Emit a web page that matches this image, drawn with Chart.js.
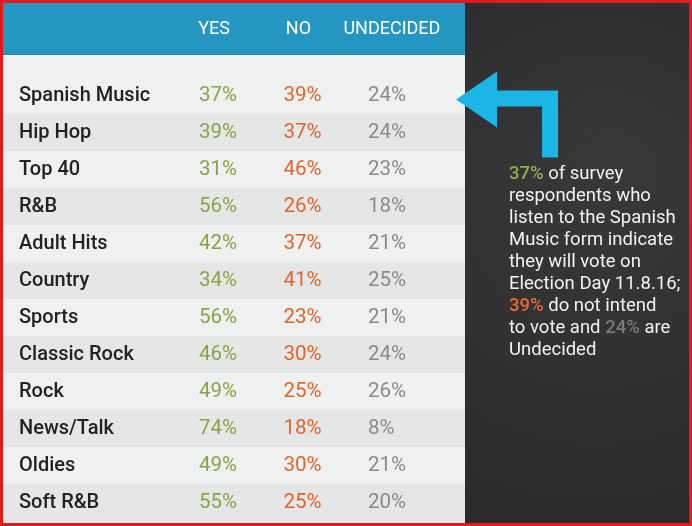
<!DOCTYPE html>
<html>
<head>
<meta charset="utf-8">
<script src="https://cdn.jsdelivr.net/npm/chart.js@4.4.0/dist/chart.umd.min.js"></script>
<style>
  html, body { margin: 0; padding: 0; background: #ffffff; }
  canvas { display: block; }
</style>
</head>
<body>
<canvas id="chart" width="692" height="526"></canvas>
<script>
const formats = ['Spanish Music', 'Hip Hop', 'Top 40', 'R&B', 'Adult Hits', 'Country',
    'Sports', 'Classic Rock', 'Rock', 'News/Talk', 'Oldies', 'Soft R&B'];
const headers = ['YES', 'NO', 'UNDECIDED'];
const yesValues = [37, 39, 31, 56, 42, 34, 56, 46, 49, 74, 49, 55];
const noValues = [39, 37, 46, 26, 37, 41, 23, 30, 25, 18, 30, 25];
const undecidedValues = [24, 24, 23, 18, 21, 25, 21, 24, 26, 8, 21, 20];

// callout text, highlighted numbers come from the first row
const noteLines = [
    [[yesValues[0] + '%', 'yes'], [' of survey', 'text']],
    [['respondents who', 'text']],
    [['listen to the Spanish', 'text']],
    [['Music form indicate', 'text']],
    [['they will vote on', 'text']],
    [['Election Day 11.8.16;', 'text']],
    [[noValues[0] + '%', 'no'], [' do not intend', 'text']],
    [['to vote and ', 'text'], [undecidedValues[0] + '%', 'undecided'], [' are', 'text']],
    [['Undecided', 'text']]
];

const colors = {
    yes: '#87a546',
    no: '#e4642c',
    undecided: '#8a8a8a',
    label: '#222222',
    header: '#2596c0',
    rowLight: '#eff0f0',
    rowDark: '#e5e7e7',
    border: '#e11b1b',
    arrow: '#1bb5e6'
};
const noteColors = { yes: '#8fb14c', no: '#e8692f', undecided: '#7a7a7a', text: '#f2f2f2' };

const FONT = 'Roboto, "Open Sans", sans-serif';

const series = [yesValues, noValues, undecidedValues];
const seriesKeys = ['yes', 'no', 'undecided'];

const tablePlugin = {
    id: 'tableBackdrop',
    beforeDraw: (chart) => {
        const ctx = chart.ctx;
        const y = chart.scales.y;
        const area = chart.chartArea;
        const rowH = y.getPixelForValue(1) - y.getPixelForValue(0);
        ctx.save();
        // red frame
        ctx.fillStyle = colors.border;
        ctx.fillRect(0, 0, chart.width, chart.height);
        // table body
        ctx.fillStyle = colors.rowLight;
        ctx.fillRect(3, 3, area.right - 3, chart.height - 6);
        formats.forEach((f, i) => {
            const cy = y.getPixelForValue(i);
            ctx.fillStyle = i % 2 ? colors.rowDark : colors.rowLight;
            const bottom = i === formats.length - 1 ? chart.height - 3 : cy + rowH / 2;
            ctx.fillRect(3, cy - rowH / 2, area.right - 3, bottom - (cy - rowH / 2));
        });
        // header bar
        ctx.fillStyle = colors.header;
        ctx.fillRect(3, 3, area.right - 3, 52);
        ctx.fillStyle = '#1f89b0';
        ctx.fillRect(3, 54, area.right - 3, 1);
        // dark side panel
        const g = ctx.createRadialGradient(610, 170, 10, 590, 230, 330);
        g.addColorStop(0, '#38383a');
        g.addColorStop(1, '#2a2a2c');
        ctx.fillStyle = g;
        ctx.fillRect(area.right, 3, chart.width - 3 - area.right, chart.height - 6);
        ctx.restore();
    },
    afterDatasetsDraw: (chart) => {
        const ctx = chart.ctx;
        const x = chart.scales.x;
        const y = chart.scales.y;
        ctx.save();

        // column headers
        const headerNudge = [15, 15, 24];
        ctx.font = '400 18px ' + FONT;
        ctx.fillStyle = '#ffffff';
        ctx.textAlign = 'center';
        ctx.textBaseline = 'middle';
        headers.forEach((h, c) => {
            ctx.fillText(h, x.getPixelForValue(c + 1) + headerNudge[c], 29);
        });

        // cell values
        ctx.font = '400 20.5px ' + FONT;
        ctx.textAlign = 'left';
        chart.data.datasets.forEach((ds, d) => {
            const meta = chart.getDatasetMeta(d);
            ctx.fillStyle = colors[seriesKeys[d]];
            meta.data.forEach((pt, i) => {
                ctx.fillText(series[d][i] + '%', pt.x, pt.y);
            });
        });

        // arrow pointing at the first row
        const tipY = y.getPixelForValue(0) + 4;
        const tipX = chart.chartArea.right - 9;
        ctx.fillStyle = colors.arrow;
        ctx.beginPath();
        ctx.moveTo(tipX, tipY);
        ctx.lineTo(tipX + 41, tipY - 28);
        ctx.lineTo(tipX + 41, tipY - 9);
        ctx.lineTo(tipX + 102, tipY - 9);
        ctx.lineTo(tipX + 102, tipY + 58);
        ctx.lineTo(tipX + 86, tipY + 58);
        ctx.lineTo(tipX + 86, tipY + 7);
        ctx.lineTo(tipX + 41, tipY + 7);
        ctx.lineTo(tipX + 41, tipY + 28);
        ctx.closePath();
        ctx.fill();

        // callout text
        ctx.textBaseline = 'middle';
        noteLines.forEach((line, l) => {
            let cx = 509;
            const cy = 174 + l * 22;
            line.forEach(([text, key]) => {
                ctx.font = (key === 'text' ? '400 ' : '500 ') + '18.5px ' + FONT;
                ctx.fillStyle = noteColors[key];
                ctx.fillText(text, cx, cy);
                cx += ctx.measureText(text).width;
            });
        });
        ctx.restore();
    }
};

new Chart(document.getElementById('chart'), {
    type: 'scatter',
    data: {
        labels: formats,
        datasets: series.map((values, c) => ({
            label: headers[c],
            data: formats.map((f) => ({ x: c + 1, y: f })),
            pointRadius: 0,
            pointHoverRadius: 0
        }))
    },
    options: {
        responsive: false,
        animation: false,
        devicePixelRatio: 1,
        layout: {
            padding: { top: 77, bottom: 5, left: 19, right: 227 }
        },
        scales: {
            x: {
                type: 'linear',
                min: 1,
                max: 4.15,
                display: false
            },
            y: {
                type: 'category',
                labels: formats,
                offset: true,
                grid: { display: false },
                border: { display: false },
                afterFit: (scale) => {
                    scale.width = 180;
                    scale.paddingTop = 0;
                    scale.paddingBottom = 0;
                },
                ticks: {
                    autoSkip: false,
                    crossAlign: 'far',
                    padding: 0,
                    color: colors.label,
                    font: { family: FONT, size: 20, weight: '500' }
                }
            }
        },
        plugins: {
            legend: { display: false },
            tooltip: { enabled: false }
        }
    },
    plugins: [tablePlugin]
});
</script>
</body>
</html>
